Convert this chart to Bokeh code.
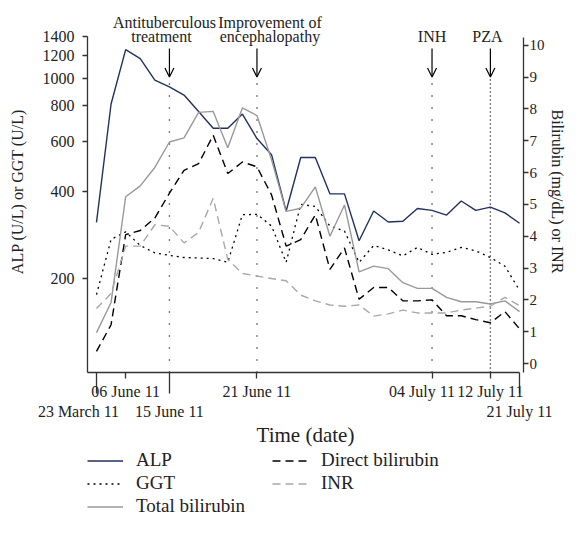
import numpy as np
from bokeh.plotting import figure
from bokeh.layouts import column
from bokeh.models import (Range1d, LinearAxis, LinearScale, FixedTicker, Legend,
                          LegendItem, Arrow, OpenHead, ColumnDataSource)
from bokeh.core.properties import value
from bokeh.embed import file_html
from bokeh.resources import INLINE

FONT = "Liberation Serif"

# ---------------- data ----------------
alp = [313, 812, 1258, 1170, 984, 932, 873, 764, 668, 668, 749, 615, 540, 343, 528,
       528, 394, 394, 270, 343, 314, 316, 350, 345, 332, 372, 345, 354, 338, 311]
ggt = [175, 273, 290, 260, 245, 240, 236, 235, 234, 227, 333, 334, 304, 227, 362,
       356, 304, 292, 227, 260, 251, 239, 256, 242, 246, 256, 249, 236, 220, 181]
total_bili = [0.97, 1.92, 5.24, 5.58, 6.16, 6.96, 7.09, 7.89, 7.92, 6.78, 8.03, 7.79,
              6.4, 4.78, 4.88, 5.55, 4.0, 4.98, 2.88, 3.06, 2.98, 2.54, 2.36, 2.36,
              2.08, 1.94, 1.94, 1.87, 1.97, 1.63]
direct_bili = [0.38, 1.22, 4.05, 4.18, 4.57, 5.35, 6.07, 6.28, 7.17, 5.97, 6.33, 6.18,
               5.3, 3.69, 3.89, 4.67, 2.96, 3.63, 2.02, 2.39, 2.39, 1.97, 1.97, 2.0,
               1.5, 1.5, 1.38, 1.28, 1.63, 1.09]
inr = [1.73, 2.2, 3.69, 3.69, 4.36, 4.31, 3.79, 4.12, 5.19, 3.27, 2.83, 2.75, 2.67,
       2.6, 2.15, 1.97, 1.84, 1.8, 1.84, 1.49, 1.56, 1.68, 1.59, 1.59, 1.59, 1.68,
       1.74, 1.8, 2.08, 1.82]
sample = list(range(len(alp)))

short_tick_pos = [2, 11, 23, 27]
short_tick_labels = ["06 June 11", "21 June 11", "04 July 11", "12 July 11"]
long_tick_pos = [0, 5, 29]
long_tick_labels = ["23 March 11", "15 June 11", "21 July 11"]

left_ticks = [200, 400, 600, 800, 1000, 1200, 1400]
left_tick_labels = ["200", "400", "600", "800", "1000", "1200", "1400"]
right_ticks = [0, 1, 2, 3, 4, 5, 6, 7, 8, 9, 10]

event_pos = [5, 11, 23, 27]
event_line1 = ["Antituberculous", "Improvement of", "", ""]
event_line2 = ["treatment", "encephalopathy", "INH", "PZA"]

series_names = ["ALP", "GGT", "Total bilirubin", "Direct bilirubin", "INR"]

# ---------------- style ----------------
NAVY = "#22315e"
GRAY = "#999999"
LGRAY = "#a8a8a8"
AXC = "#333333"
TXT = "#222222"
NB = "\u00a0"
short_label_pad = [0, 0, 5, 0]     # trailing no-break spaces: nudges a label left
long_label_pad = [9, 0, 0]
line1_nudge = [-5, 13, 0, 0]
line2_nudge = [-8, 13, 0, -3]

X0, X1 = -0.616, 29.27
YL0, YL1 = 93.5, 1724
YR0, YR1 = -0.281, 11.09
ARROW_TOP, ARROW_TIP = 9.9, 9.0
TXT1_Y, TXT2_Y = 10.72, 10.28

p = figure(width=568, height=449,
           x_range=Range1d(X0, X1), y_range=Range1d(YL0, YL1), y_axis_type="log",
           output_backend="svg", toolbar_location=None,
           min_border_left=87, min_border_right=40, min_border_top=10,
           min_border_bottom=75)
p.extra_y_ranges = {"right": Range1d(YR0, YR1)}
p.extra_y_scales = {"right": LinearScale()}
p.outline_line_color = None
p.xgrid.visible = False
p.ygrid.visible = False
p.background_fill_color = "white"
p.border_fill_color = "white"

def style_axis(ax):
    ax.axis_line_color = AXC
    ax.axis_line_width = 1.3
    ax.major_tick_line_color = AXC
    ax.major_tick_line_width = 1.3
    ax.minor_tick_line_color = AXC
    ax.minor_tick_line_width = 1.3
    ax.major_tick_in = 0
    ax.minor_tick_in = 0
    ax.major_label_text_font = FONT
    ax.major_label_text_font_size = "16px"
    ax.major_label_text_color = TXT
    ax.axis_label_text_font = FONT
    ax.axis_label_text_font_style = "normal"
    ax.axis_label_text_color = TXT

# left log axis
la = p.yaxis[0]
style_axis(la)
la.ticker = FixedTicker(ticks=left_ticks, minor_ticks=[])
la.major_label_overrides = {t: s for t, s in zip(left_ticks, left_tick_labels)}
la.bounds = (YL0, left_ticks[-1])
la.major_tick_out = 5
la.major_label_standoff = 8
la.axis_label = "ALP (U/L) or GGT (U/L)"
la.axis_label_text_font_size = "16px"
la.axis_label_standoff = 14

# right linear axis
ra = LinearAxis(y_range_name="right", ticker=FixedTicker(ticks=right_ticks, minor_ticks=[]))
style_axis(ra)
ra.bounds = (YR0, 10.23)
ra.major_tick_out = 5
ra.major_label_standoff = 1
ra.major_label_text_font_size = "15px"
ra.axis_label = "Bilirubin (mg/dL) or INR"
ra.axis_label_text_font_size = "16px"
ra.axis_label_standoff = 1
p.add_layout(ra, "right")

# bottom axis 1: short ticks + labels, long ticks drawn as minor ticks
ba = p.xaxis[0]
style_axis(ba)
ba.ticker = FixedTicker(ticks=short_tick_pos, minor_ticks=long_tick_pos)
ba.major_label_overrides = {t: s + NB * k for t, s, k in
                            zip(short_tick_pos, short_tick_labels, short_label_pad)}
ba.bounds = (X0, long_tick_pos[-1])
ba.major_tick_out = 6
ba.minor_tick_out = 21
ba.major_label_standoff = -11

# bottom axis 2: second row of labels + title
ba2 = LinearAxis(ticker=FixedTicker(ticks=long_tick_pos, minor_ticks=[]))
style_axis(ba2)
ba2.major_label_overrides = {t: s + NB * k for t, s, k in
                             zip(long_tick_pos, long_tick_labels, long_label_pad)}
ba2.axis_line_color = None
ba2.major_tick_line_color = None
ba2.major_tick_out = 0
ba2.major_label_standoff = 0
ba2.axis_label = "Time (date)"
ba2.axis_label_text_font_size = "21px"
ba2.axis_label_standoff = 0
p.add_layout(ba2, "below")

# event markers
ev = ColumnDataSource(dict(x=event_pos, l1=event_line1, l2=event_line2,
                           n1=line1_nudge, n2=line2_nudge,
                           ytip=[ARROW_TIP] * 4, ytop=[ARROW_TOP] * 4,
                           t1=[TXT1_Y] * 4, t2=[TXT2_Y] * 4))
sparse = ColumnDataSource(dict(x=event_pos[:3], y0=[YR0] * 3, ytip=[ARROW_TIP] * 3))
p.segment(x0="x", y0="y0", x1="x", y1="ytip", source=sparse, y_range_name="right",
          line_color="black", line_width=1.4, line_dash="1 11")
dense = ColumnDataSource(dict(x=event_pos[3:], y0=[YR0], ytip=[ARROW_TIP]))
p.segment(x0="x", y0="y0", x1="x", y1="ytip", source=dense, y_range_name="right",
          line_color="black", line_width=1.4, line_dash="1 3")
p.add_layout(Arrow(end=OpenHead(size=9, line_width=1.2, line_color="black"),
                   x_start="x", y_start="ytop", x_end="x", y_end="ytip", source=ev,
                   y_range_name="right", line_width=1.2, line_color="black"))
p.text(x="x", y="t1", text="l1", x_offset="n1", source=ev, y_range_name="right",
       text_font=value(FONT), text_font_size="16px", text_align="center",
       text_baseline="middle", text_color=TXT)
p.text(x="x", y="t2", text="l2", x_offset="n2", source=ev, y_range_name="right",
       text_font=value(FONT), text_font_size="16px", text_align="center",
       text_baseline="middle", text_color=TXT)

# series
series = [alp, ggt, total_bili, direct_bili, inr]
axis_of = ["default", "default", "right", "right", "right"]
STY = [dict(line_color=NAVY, line_width=1.4),
       dict(line_color="black", line_width=1.3, line_dash="2 4"),
       dict(line_color=GRAY, line_width=1.4),
       dict(line_color="black", line_width=1.4, line_dash="8 5"),
       dict(line_color=LGRAY, line_width=1.4, line_dash="8 5")]
for ys, rng, sty in zip(series, axis_of, STY):
    p.line(sample, ys, y_range_name=rng, **sty)

# legend panel: a second, axis-less figure under the chart whose ranges keep
# its copies of the series out of view; only its legend shows
q = figure(width=568, height=68, x_range=Range1d(0, 1), y_range=Range1d(-2, -1),
           output_backend="svg", toolbar_location=None,
           x_axis_location=None, y_axis_location=None,
           min_border_left=0, min_border_right=0, min_border_top=0, min_border_bottom=0)
q.outline_line_color = None
q.xgrid.visible = False
q.ygrid.visible = False
q.background_fill_color = "white"
q.border_fill_color = "white"
items = []
for name, ys, sty in zip(series_names, series, STY):
    r = q.line(sample, ys, **sty)
    items.append(LegendItem(label=name, renderers=[r]))
legend = Legend(items=items, location=(0, 0), orientation="vertical", nrows=3,
                margin=0, padding=0, border_line_color=None,
                background_fill_alpha=0, glyph_width=36, glyph_height=21,
                label_height=21, label_standoff=13, label_width=135, spacing=1,
                label_text_font=FONT, label_text_font_size="19px",
                label_text_color=TXT)
q.add_layout(legend)

layout = column(p, q, spacing=0)
open("out.html", "w").write(file_html(layout, INLINE))
